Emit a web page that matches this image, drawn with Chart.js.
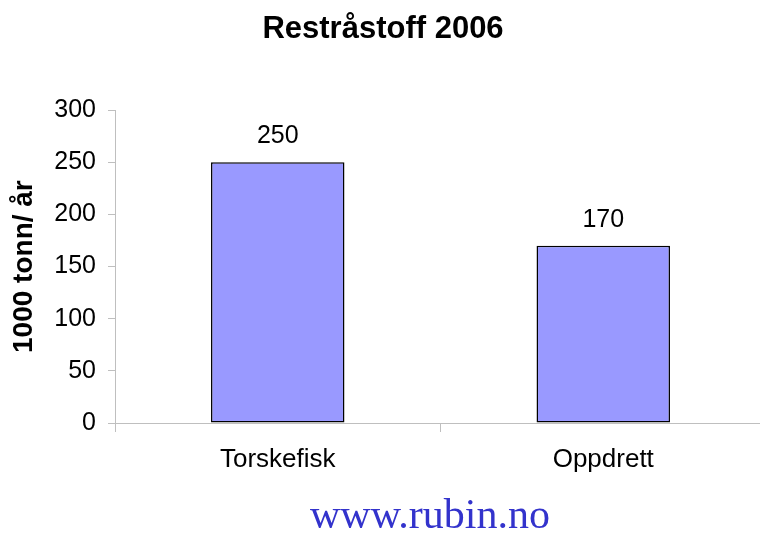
<!DOCTYPE html>
<html>
<head>
<meta charset="utf-8">
<script src="https://cdn.jsdelivr.net/npm/chart.js@4"></script>
<style>
  html, body { margin: 0; padding: 0; background: #fff; overflow: hidden; }
  #wrap { position: relative; width: 760px; height: 533px; overflow: hidden; }
  #footer {
    position: absolute; left: 230px; width: 400px; top: 493px;
    text-align: center; font: 42px/42px "Liberation Serif", "Times New Roman", serif;
    color: #3333cc;
  }
</style>
</head>
<body>
<div id="wrap">
  <canvas id="restChart" width="772" height="533"></canvas>
  <div id="footer">www.rubin.no</div>
</div>
<script>
// data
var categories = ['Torskefisk', 'Oppdrett'];
var tonnValues = [250, 170];
var yTicks = [0, 50, 100, 150, 200, 250, 300];

var axisGray = '#bfbfbf';

// draws the value above each bar
var valueLabels = {
  id: 'valueLabels',
  afterDatasetsDraw: function(chart) {
    var ctx = chart.ctx;
    var meta = chart.getDatasetMeta(0);
    ctx.save();
    ctx.font = '25px "Liberation Sans", Arial, sans-serif';
    ctx.fillStyle = '#000';
    ctx.textAlign = 'center';
    ctx.textBaseline = 'middle';
    meta.data.forEach(function(bar, i) {
      ctx.fillText(chart.data.datasets[0].data[i], bar.x, bar.y - 26);
    });
    ctx.restore();
  }
};

var ctx = document.getElementById('restChart').getContext('2d');

var myChart = new Chart(ctx, {
  type: 'bar',
  data: {
    labels: categories,
    datasets: [{
      data: tonnValues,
      backgroundColor: '#9999ff',
      borderColor: '#000000',
      borderWidth: 1.5,
      borderSkipped: false,
      categoryPercentage: 1,
      barPercentage: 0.41
    }]
  },
  options: {
    responsive: false,
    animation: false,
    devicePixelRatio: 1,
    layout: { padding: { top: 0, right: 6, bottom: 0, left: 0 } },
    plugins: {
      legend: { display: false },
      tooltip: { enabled: false },
      title: {
        display: true,
        text: 'Restråstoff 2006',
        color: '#000',
        font: { family: '"Liberation Sans", Arial, sans-serif', size: 31, weight: 'bold' },
        padding: { top: 11, bottom: 62 }
      }
    },
    scales: {
      x: {
        grid: { display: true, drawOnChartArea: false, drawTicks: true, tickLength: 9, color: axisGray, offset: true },
        border: { display: true, color: axisGray, width: 1 },
        ticks: {
          color: '#000',
          padding: 12,
          font: { family: '"Liberation Sans", Arial, sans-serif', size: 26 }
        },
        afterFit: function(scale) { scale.height = 110; }
      },
      y: {
        min: 0,
        max: 300,
        afterBuildTicks: function(scale) {
          scale.ticks = yTicks.map(function(v) { return { value: v }; });
        },
        grid: { display: true, drawOnChartArea: false, drawTicks: true, tickLength: 7, color: axisGray },
        border: { display: true, color: axisGray, width: 1 },
        ticks: {
          color: '#000',
          padding: 12,
          font: { family: '"Liberation Sans", Arial, sans-serif', size: 25 }
        },
        title: {
          display: true,
          text: '1000 tonn/ år',
          color: '#000',
          padding: { top: 7, bottom: 0 },
          font: { family: '"Liberation Sans", Arial, sans-serif', size: 28, weight: 'bold' }
        },
        afterFit: function(scale) { scale.width = 115; }
      }
    }
  },
  plugins: [valueLabels]
});
</script>
</body>
</html>
